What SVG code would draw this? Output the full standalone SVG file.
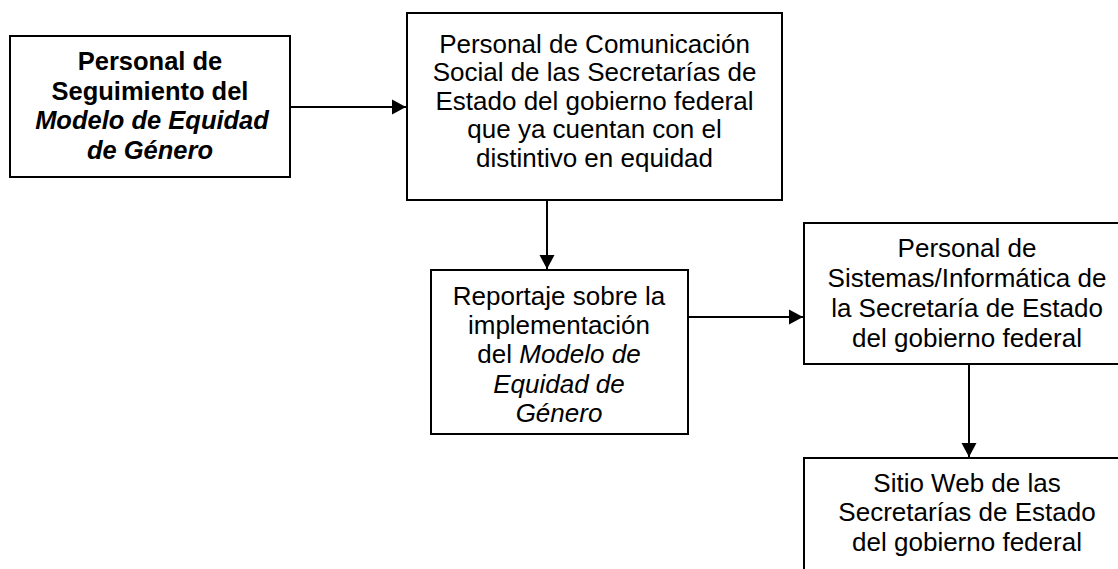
<svg xmlns="http://www.w3.org/2000/svg" width="1118" height="569" viewBox="0 0 1118 569">
<defs>
<style>
.box{fill:#fff;stroke:#000;stroke-width:2}
.t{font-family:"Liberation Sans",Arial,sans-serif;font-size:26px;fill:#000;text-anchor:middle}
.b{font-weight:bold;font-size:25.5px}
.i{font-style:italic}
.c{stroke:#000;stroke-width:2;fill:none}
</style>
<marker id="ah" markerUnits="userSpaceOnUse" markerWidth="16" markerHeight="16" viewBox="0 0 16 16" refX="14" refY="8" orient="auto">
<path d="M0,0.5 L14,8 L0,15.5 Z" fill="#000"/>
</marker>
</defs>
<rect width="1118" height="569" fill="#fff"/>
<g id="connectors">
<line class="c" x1="291" y1="107" x2="406" y2="107" marker-end="url(#ah)"/>
<line class="c" x1="547" y1="201" x2="547" y2="269" marker-end="url(#ah)"/>
<line class="c" x1="689" y1="317" x2="803" y2="317" marker-end="url(#ah)"/>
<line class="c" x1="969" y1="365" x2="969" y2="457" marker-end="url(#ah)"/>
</g>
<g id="node1">
<rect class="box" x="10" y="36" width="280" height="141"/>
<text class="t b" x="150" y="70">Personal de</text>
<text class="t b" x="150" y="99.5">Seguimiento del</text>
<text class="t b i" x="152" y="129">Modelo de Equidad</text>
<text class="t b i" x="150" y="158.5">de Género</text>
</g>
<g id="node2">
<rect class="box" x="407" y="13" width="375" height="187"/>
<text class="t" x="594.5" y="52.5">Personal de Comunicación</text>
<text class="t" x="594.5" y="81.1">Social de las Secretarías de</text>
<text class="t" x="594.5" y="109.7">Estado del gobierno federal</text>
<text class="t" x="594.5" y="138.3">que ya cuentan con el</text>
<text class="t" x="594.5" y="166.9">distintivo en equidad</text>
</g>
<g id="node3">
<rect class="box" x="431" y="270" width="257" height="164"/>
<text class="t" x="559" y="305">Reportaje sobre la</text>
<text class="t" x="559" y="334.2">implementación</text>
<text class="t" x="559" y="363.4">del <tspan class="i">Modelo de</tspan></text>
<text class="t i" x="559" y="392.6">Equidad de</text>
<text class="t i" x="559" y="421.8">Género</text>
</g>
<g id="node4">
<rect class="box" x="804" y="223" width="330" height="141"/>
<text class="t" x="967" y="257">Personal de</text>
<text class="t" x="967" y="287">Sistemas/Informática de</text>
<text class="t" x="967" y="317">la Secretaría de Estado</text>
<text class="t" x="967" y="347">del gobierno federal</text>
</g>
<g id="node5">
<rect class="box" x="804" y="458" width="330" height="130"/>
<text class="t" x="967" y="491.5">Sitio Web de las</text>
<text class="t" x="967" y="521.2">Secretarías de Estado</text>
<text class="t" x="967" y="551">del gobierno federal</text>
</g>
</svg>
